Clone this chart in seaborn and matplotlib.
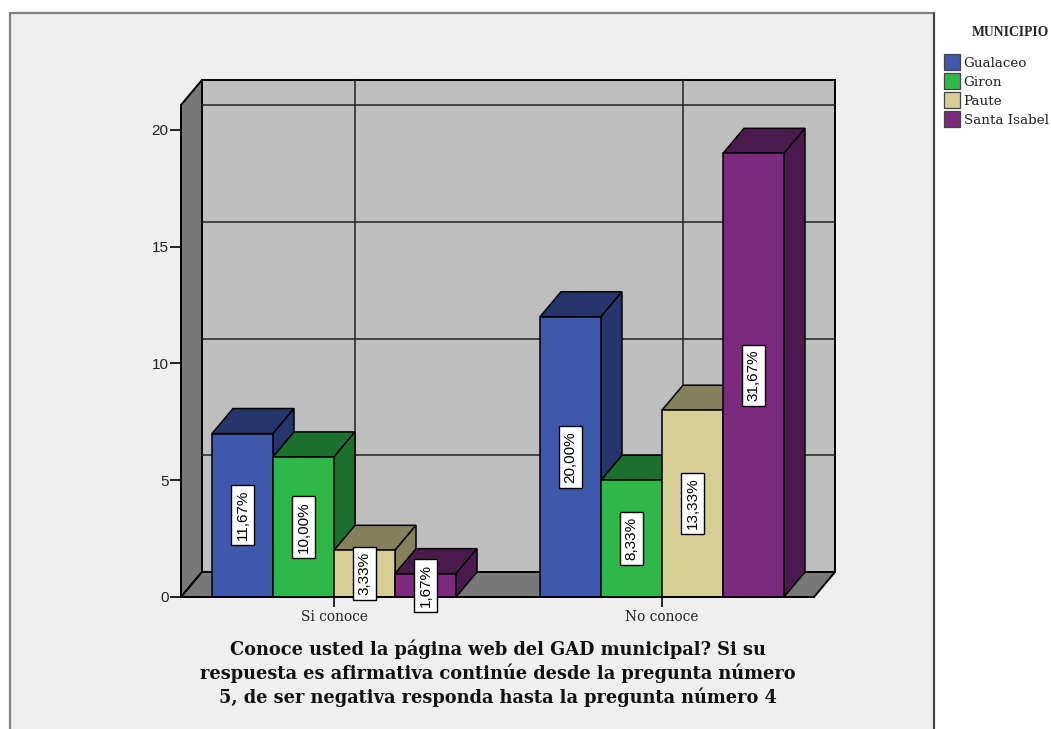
import pandas as pd
import matplotlib
matplotlib.use("Agg")
import matplotlib.pyplot as plt
from matplotlib.lines import Line2D
from matplotlib.patches import Polygon, Rectangle
import seaborn as sns

categories = ["Si conoce", "No conoce"]
municipios = ["Gualaceo", "Giron", "Paute", "Santa Isabel"]
gualaceo = [7, 12]
giron = [6, 5]
paute = [2, 8]
santa_isabel = [1, 19]
labels_pct = [
    ["11,67%", "20,00%"],
    ["10,00%", "8,33%"],
    ["3,33%", "13,33%"],
    ["1,67%", "31,67%"],
]
front_colors = ["#3E58AC", "#2EB84A", "#D5CE95", "#7B2A7E"]
dark_colors = ["#24366C", "#1C702E", "#85805C", "#4B1A4D"]
title_text = (
    "Conoce usted la página web del GAD municipal? Si su\n"
    "respuesta es afirmativa continúe desde la pregunta número\n"
    "5, de ser negativa responda hasta la pregunta número 4"
)

W, H = 1051, 729
SERIF = "DejaVu Serif"

df = pd.DataFrame(
    {
        "categoria": categories * 4,
        "municipio": [m for m in municipios for _ in categories],
        "n": gualaceo + giron + paute + santa_isabel,
    }
)

sns.set_style("white")
plt.rcParams["font.family"] = ["Liberation Sans", "DejaVu Sans"]

fig = plt.figure(figsize=(W / 100, H / 100), dpi=100, facecolor="white")

# marco gris del grafico (abierto por abajo)
fig.patches.append(
    Rectangle((10 / W, -0.02), 924 / W, (H - 13) / H + 0.02, transform=fig.transFigure,
              facecolor="#EFEFEF", edgecolor="#808080", linewidth=1.6, zorder=-1)
)
fig.add_artist(Line2D([934 / W, 934 / W], [0, 1 - 13 / H], color="#333333", lw=1.2, zorder=-0.5))

ax = fig.add_axes([181 / W, 1 - 597 / H, 633 / W, 492 / H])
ax.patch.set_visible(False)

sns.barplot(
    data=df, x="categoria", y="n", hue="municipio", order=categories, hue_order=municipios,
    palette=front_colors, saturation=1, width=0.744, edgecolor="black", linewidth=1.1,
    errorbar=None, ax=ax,
)

ax.set_xlim(-0.4665, 1.4635)
ax.set_ylim(0, 21.07)
x0, x1 = ax.get_xlim()
y0, y1 = ax.get_ylim()
dx = 21 / 328
dy = 1.07

# paredes y suelo 3D
wall_kw = dict(edgecolor="black", linewidth=1.4, clip_on=False, zorder=0.5)
ax.add_patch(Rectangle((x0 + dx, y0 + dy), x1 - x0, y1 - y0, facecolor="#BEBEBE", **wall_kw))
ax.add_patch(Polygon([(x0, y0), (x0 + dx, y0 + dy), (x0 + dx, y1 + dy), (x0, y1)], facecolor="#787878", **wall_kw))
ax.add_patch(Polygon([(x0, y0), (x1, y0), (x1 + dx, y0 + dy), (x0 + dx, y0 + dy)], facecolor="#787878", **wall_kw))

# rejilla sobre la pared del fondo
for v in [5, 10, 15, 20]:
    ax.plot([x0 + dx, x1 + dx], [v + dy, v + dy], color="#222222", lw=1.1, zorder=0.6, clip_on=False)
for c in range(len(categories)):
    ax.plot([c + dx, c + dx], [y0 + dy, y1 + dy], color="#222222", lw=1.1, zorder=0.6, clip_on=False)

# caras superior y lateral de cada barra
bars = []
for i, cont in enumerate(ax.containers):
    for j, bar in enumerate(cont):
        bars.append((bar.get_x(), i, bar))
for order, (_, i, bar) in enumerate(sorted(bars, key=lambda t: t[0])):
    xa = bar.get_x()
    xb = xa + bar.get_width()
    top = bar.get_height()
    z = 3 + order * 0.1
    face_kw = dict(facecolor=dark_colors[i], edgecolor="black", linewidth=1.1, clip_on=False, zorder=z)
    ax.add_patch(Polygon([(xa, top), (xb, top), (xb + dx, top + dy), (xa + dx, top + dy)], **face_kw))
    ax.add_patch(Polygon([(xb, 0), (xb + dx, dy), (xb + dx, top + dy), (xb, top)], **face_kw))
    bar.set_zorder(z + 0.01)
    bar.set_clip_on(False)

for i, cont in enumerate(ax.containers):
    texts = ax.bar_label(
        cont, labels=labels_pct[i], label_type="center", rotation=90, fontsize=11, color="black",
        bbox=dict(boxstyle="square,pad=0.32", facecolor="white", edgecolor="black", linewidth=1.0),
        zorder=10,
    )
    for t in texts:
        t.set_clip_on(False)

sns.despine(ax=ax, top=True, right=True)
for side in ["left", "bottom"]:
    ax.spines[side].set_color("black")
    ax.spines[side].set_linewidth(1.4)
    ax.spines[side].set_zorder(8)

ax.set_yticks([0, 5, 10, 15, 20])
ax.tick_params(axis="y", left=True, length=8, width=1.2, color="black", labelsize=11, pad=1, labelcolor="#222222")
ax.tick_params(axis="x", bottom=True, length=7.5, width=1.2, color="black", pad=2)
for lab in ax.get_xticklabels():
    lab.set_fontfamily(SERIF)
    lab.set_fontsize(9.9)
    lab.set_color("#222222")

ax.set_ylabel("")
ax.set_xlabel(title_text, fontfamily=SERIF, fontweight="bold", fontsize=12.8, color="#111111",
              labelpad=11, linespacing=1.28)

sns.move_legend(
    ax, loc="upper left", bbox_to_anchor=(944 / W, 1 - 26 / H), bbox_transform=fig.transFigure,
    frameon=False, title="MUNICIPIO", fontsize=9.7, handlelength=1.2, handleheight=1.447,
    handletextpad=0.25, labelspacing=0.22, borderpad=0, borderaxespad=0, alignment="right",
    title_fontproperties={"family": "Liberation Serif", "weight": "bold", "size": 9.8},
)
leg = ax.get_legend()
leg._legend_box.sep = 11
for t in leg.get_texts():
    t.set_fontfamily(SERIF)
    t.set_color("#222222")
for h in leg.get_patches():
    h.set_edgecolor("#444444")
    h.set_linewidth(0.9)

fig.savefig("out.png", dpi=100, facecolor="white")
